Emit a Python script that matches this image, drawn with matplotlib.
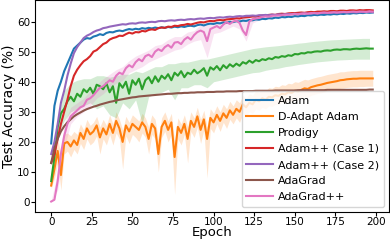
import numpy as np
import matplotlib
matplotlib.use('Agg')
import matplotlib.pyplot as plt

# epochs the curves were read at (every 2nd epoch), some bands read every 4th epoch
epochs = list(range(0, 200, 2))
band_epochs = list(range(0, 200, 4))

labels = ['Adam', 'D-Adapt Adam', 'Prodigy', 'Adam++ (Case 1)',
          'Adam++ (Case 2)', 'AdaGrad', 'AdaGrad++']

adam = [19.5, 32.0, 37.0, 40.0, 43.5, 46.0, 48.5, 51.0, 52.0, 53.0,
        54.0, 54.5, 54.3, 55.0, 55.3, 55.8, 55.5, 56.2, 56.5, 56.4,
        56.8, 57.0, 56.8, 57.2, 57.5, 57.3, 57.6, 57.4, 57.8, 57.6,
        57.9, 57.7, 58.0, 57.8, 58.1, 57.9, 58.2, 58.0, 58.3, 58.1,
        58.4, 58.2, 58.5, 58.6, 58.4, 58.8, 59.0, 58.7, 59.1, 59.3,
        59.2, 59.5, 59.4, 59.7, 59.6, 59.9, 59.8, 60.1, 60.0, 60.3,
        60.2, 60.5, 60.4, 60.7, 60.6, 60.9, 60.8, 61.1, 61.0, 61.3,
        61.2, 61.5, 61.4, 61.6, 61.5, 61.8, 61.7, 61.9, 61.8, 62.1,
        62.0, 62.2, 62.1, 62.3, 62.2, 62.4, 62.3, 62.5, 62.4, 62.6,
        62.5, 62.7, 62.6, 62.8, 62.7, 62.9, 62.8, 63.0, 62.9, 63.0]

dadapt = [5.5, 11.0, 17.0, 9.0, 19.5, 20.0, 18.5, 20.5, 19.0, 23.0,
          21.0, 24.5, 22.5, 23.5, 25.5, 21.5, 24.5, 22.5, 26.0, 23.0,
          27.0, 24.5, 20.0, 25.5, 23.5, 26.0, 25.0, 24.0, 26.5, 25.0,
          21.0, 26.0, 24.5, 16.0, 25.0, 27.0, 24.0, 26.5, 15.0, 25.0,
          23.0, 26.0, 21.0, 27.0, 25.0, 28.5, 24.0, 27.5, 21.0, 28.0,
          26.5, 29.0, 27.0, 29.5, 28.0, 30.5, 29.0, 31.0, 30.0, 32.5,
          31.5, 33.0, 32.5, 34.0, 33.5, 34.5, 34.0, 35.0, 34.8, 35.5,
          35.3, 36.0, 35.8, 36.5, 36.3, 37.0, 36.8, 37.3, 37.8, 37.6,
          38.2, 38.5, 38.8, 39.0, 39.3, 39.6, 39.8, 40.0, 40.2, 40.5,
          40.6, 40.8, 40.9, 41.0, 41.0, 41.1, 41.1, 41.1, 41.1, 41.1]

prodigy = [7.0, 15.0, 25.0, 29.5, 31.0, 33.5, 35.0, 33.5, 36.0, 35.0,
           37.5, 36.5, 38.0, 36.0, 39.0, 38.5, 37.5, 39.5, 36.5, 38.5,
           33.0, 39.5, 38.0, 40.0, 36.0, 40.5, 39.0, 41.0, 37.5, 40.5,
           41.5, 39.5, 41.8, 40.0, 42.0, 41.0, 42.5, 40.5, 43.0, 42.0,
           43.5, 41.5, 43.0, 42.5, 44.0, 42.8, 43.5, 44.5, 42.0, 44.8,
           44.0, 45.2, 43.8, 45.5, 44.5, 45.8, 45.0, 46.0, 45.3, 46.5,
           46.0, 47.0, 46.3, 47.2, 46.8, 47.5, 47.2, 47.8, 47.5, 48.2,
           48.0, 48.5, 48.3, 48.8, 48.6, 49.2, 49.1, 49.5, 49.4, 49.8,
           49.7, 50.0, 50.1, 50.0, 50.3, 50.4, 50.3, 50.6, 50.7, 50.6,
           50.8, 50.8, 50.7, 50.9, 51.0, 50.9, 51.0, 51.1, 51.0, 51.0]

adampp_1 = [13.0, 16.0, 21.0, 26.0, 30.0, 34.0, 38.5, 42.0, 44.0, 45.5,
            46.8, 47.5, 48.5, 50.0, 50.5, 51.5, 52.5, 53.0, 54.0, 54.5,
            54.8, 55.3, 55.2, 55.8, 56.3, 56.0, 56.5, 56.4, 56.9, 56.7,
            57.2, 57.4, 57.2, 57.8, 58.0, 57.9, 58.3, 58.2, 58.6, 58.5,
            58.8, 58.9, 59.2, 59.0, 59.3, 59.6, 59.8, 59.7, 60.0, 60.2,
            60.1, 60.4, 60.5, 60.4, 60.7, 60.8, 60.9, 61.1, 61.0, 61.3,
            61.4, 61.5, 61.7, 61.6, 61.9, 62.0, 62.0, 62.2, 62.3, 62.2,
            62.5, 62.6, 62.5, 62.7, 62.8, 62.8, 62.9, 63.0, 62.9, 63.1,
            63.2, 63.1, 63.3, 63.3, 63.4, 63.3, 63.5, 63.5, 63.4, 63.6,
            63.6, 63.5, 63.7, 63.7, 63.6, 63.8, 63.7, 63.8, 63.8, 63.7]

adampp_2 = [16.0, 20.0, 26.0, 33.0, 37.0, 42.0, 46.0, 49.5, 51.5, 53.0,
            54.5, 55.3, 55.8, 56.5, 57.0, 57.3, 57.8, 58.0, 58.3, 58.5,
            58.7, 58.9, 59.1, 59.0, 59.3, 59.4, 59.3, 59.6, 59.7, 59.6,
            59.8, 59.9, 59.8, 60.1, 60.2, 60.1, 60.3, 60.4, 60.3, 60.5,
            60.6, 60.5, 60.7, 60.8, 60.7, 60.9, 61.0, 60.9, 61.1, 61.2,
            61.1, 61.3, 61.4, 61.3, 61.5, 61.6, 61.5, 61.7, 61.8, 61.7,
            61.9, 61.9, 62.0, 61.9, 62.1, 62.1, 62.2, 62.1, 62.3, 62.2,
            62.4, 62.3, 62.4, 62.5, 62.4, 62.6, 62.5, 62.6, 62.7, 62.6,
            62.7, 62.8, 62.7, 62.8, 62.9, 62.8, 62.9, 63.0, 62.9, 63.0,
            63.1, 63.0, 63.1, 63.1, 63.0, 63.2, 63.1, 63.2, 63.2, 63.1]

adagrad = [13.0, 18.0, 21.0, 23.5, 25.2, 26.5, 27.5, 28.5, 29.2, 29.8,
           30.4, 30.9, 31.3, 31.7, 32.0, 32.4, 32.7, 33.0, 33.3, 33.5,
           33.8, 34.0, 34.2, 34.4, 34.6, 34.8, 34.9, 35.1, 35.2, 35.3,
           35.4, 35.5, 35.6, 35.7, 35.8, 35.9, 36.0, 36.0, 36.1, 36.2,
           36.2, 36.3, 36.3, 36.4, 36.4, 36.5, 36.5, 36.5, 36.6, 36.6,
           36.6, 36.7, 36.7, 36.7, 36.8, 36.8, 36.8, 36.8, 36.9, 36.9,
           36.9, 36.9, 36.9, 37.0, 37.0, 37.0, 37.0, 37.0, 37.0, 37.1,
           37.1, 37.1, 37.1, 37.1, 37.1, 37.1, 37.2, 37.2, 37.2, 37.2,
           37.2, 37.2, 37.2, 37.2, 37.2, 37.3, 37.3, 37.3, 37.3, 37.3,
           37.3, 37.3, 37.3, 37.3, 37.3, 37.3, 37.3, 37.3, 37.4, 37.4]

adagradpp = [0.2, 0.8, 7.0, 16.0, 22.0, 26.0, 28.5, 29.5, 30.5, 31.5,
             32.0, 34.0, 34.5, 35.5, 36.8, 38.0, 38.5, 39.5, 40.5, 40.0,
             42.0, 43.0, 42.5, 44.5, 45.5, 44.8, 46.5, 47.5, 46.8, 48.5,
             49.0, 48.2, 50.0, 50.8, 50.2, 51.5, 52.2, 51.3, 53.0, 53.2,
             52.5, 54.0, 54.8, 54.0, 55.5, 56.5, 57.0, 56.5, 53.5, 57.5,
             58.0, 58.5, 57.8, 59.0, 59.8, 59.2, 60.0, 60.3, 59.5, 57.0,
             55.5, 60.0, 60.8, 61.0, 61.2, 61.5, 61.7, 61.6, 61.9, 62.0,
             62.0, 62.1, 62.3, 62.2, 62.4, 62.5, 62.4, 62.6, 62.7, 62.6,
             62.8, 62.8, 62.7, 62.9, 63.0, 62.9, 63.0, 63.1, 63.0, 63.1,
             63.2, 63.1, 63.2, 63.3, 63.2, 63.3, 63.3, 63.2, 63.4, 63.3]

# shaded spread (lower / upper) for the noisy runs
dadapt_lo = [4.5, 8.0, 13.0, 4.0, 16.0, 17.0, 15.0, 17.5, 16.0, 19.5,
             17.5, 21.0, 19.0, 20.0, 22.0, 16.0, 21.0, 19.0, 22.5, 19.0,
             23.0, 21.0, 11.0, 22.0, 19.5, 22.5, 21.5, 20.0, 23.0, 21.5,
             16.0, 22.5, 21.0, 10.0, 21.5, 23.5, 20.0, 22.5, 2.5, 21.0,
             19.0, 22.5, 13.0, 23.5, 21.5, 25.0, 19.5, 24.0, 8.0, 24.5,
             23.0, 26.0, 23.5, 26.5, 24.5, 27.5, 26.0, 28.0, 26.5, 29.5,
             28.5, 30.0, 29.5, 31.0, 30.5, 31.5, 31.0, 32.0, 31.8, 32.5,
             32.5, 33.2, 33.0, 33.7, 33.5, 34.2, 34.0, 34.5, 35.0, 34.8,
             35.5, 35.8, 36.1, 36.3, 36.6, 36.9, 37.1, 37.3, 37.5, 37.8,
             37.9, 38.1, 38.2, 38.3, 38.3, 38.4, 38.4, 38.5, 38.5, 38.5]
dadapt_hi = [6.5, 14.0, 21.0, 16.0, 22.5, 23.0, 22.0, 23.5, 22.5, 26.0,
             24.0, 27.5, 25.5, 26.5, 28.5, 25.0, 27.5, 25.5, 29.0, 26.0,
             30.0, 27.5, 24.0, 28.5, 26.5, 29.0, 28.0, 27.0, 29.5, 28.0,
             25.0, 29.0, 27.5, 21.0, 28.0, 30.0, 27.0, 29.5, 20.0, 28.0,
             26.0, 29.0, 25.0, 30.0, 28.0, 31.5, 27.5, 30.5, 25.0, 31.0,
             29.5, 32.0, 30.0, 32.5, 31.0, 33.5, 32.0, 34.0, 33.0, 35.5,
             34.5, 36.0, 35.5, 37.0, 36.5, 37.5, 37.0, 38.0, 37.8, 38.5,
             38.3, 39.0, 38.8, 39.5, 39.3, 40.0, 39.8, 40.3, 40.8, 40.6,
             41.0, 41.3, 41.6, 41.8, 42.1, 42.4, 42.6, 42.8, 43.0, 43.3,
             43.3, 43.5, 43.6, 43.7, 43.7, 43.8, 43.8, 43.8, 43.8, 43.8]
prodigy_lo = [6.0, 22.0, 27.0, 30.0, 31.0, 32.0, 33.0, 31.0, 32.0, 29.0,
              28.0, 33.0, 31.0, 34.0, 26.0, 35.0, 36.0, 36.5, 37.5, 34.0,
              38.0, 38.0, 39.0, 39.0, 38.0, 40.0, 40.5, 41.0, 41.5, 42.0,
              42.5, 43.0, 43.2, 43.8, 44.2, 44.5, 45.0, 45.3, 45.7, 46.0,
              46.3, 46.6, 46.8, 47.0, 47.2, 47.3, 47.4, 47.5, 47.5, 47.5]
prodigy_hi = [8.0, 28.0, 37.0, 39.5, 40.5, 41.0, 41.0, 42.0, 42.0, 41.5,
              42.0, 42.5, 42.5, 43.5, 43.0, 44.0, 45.0, 45.0, 46.0, 46.0,
              46.5, 46.5, 47.0, 47.5, 47.5, 48.0, 48.5, 49.0, 49.5, 50.0,
              50.5, 51.0, 51.3, 51.6, 51.8, 52.0, 52.3, 52.5, 52.8, 53.0,
              53.3, 53.5, 53.7, 53.9, 54.0, 54.1, 54.2, 54.3, 54.4, 54.4]
adagradpp_lo = [0.0, 4.0, 18.0, 26.0, 28.5, 30.0, 32.0, 34.5, 36.0, 38.0,
                39.5, 40.5, 43.0, 44.0, 45.0, 46.5, 47.5, 48.5, 49.5, 50.5,
                51.0, 52.5, 53.5, 54.0, 48.0, 56.0, 56.5, 57.5, 58.5, 57.5,
                53.5, 59.5, 60.5, 61.0, 61.3, 61.5, 61.7, 61.9, 62.0, 62.1,
                62.2, 62.3, 62.4, 62.5, 62.6, 62.6, 62.7, 62.8, 62.8, 62.8]
adagradpp_hi = [0.5, 10.0, 26.0, 31.5, 33.0, 34.5, 37.0, 39.0, 41.0, 42.5,
                44.0, 45.0, 47.0, 48.5, 49.5, 50.5, 52.0, 52.5, 54.0, 55.0,
                55.0, 56.5, 57.0, 59.0, 59.0, 59.5, 60.0, 60.5, 61.0, 61.0,
                61.5, 61.8, 62.0, 62.2, 62.5, 62.6, 62.7, 62.8, 62.9, 63.0,
                63.1, 63.2, 63.3, 63.4, 63.4, 63.5, 63.6, 63.6, 63.7, 63.7]

colors = ['tab:blue', 'tab:orange', 'tab:green', 'tab:red',
          'tab:purple', 'tab:brown', 'tab:pink']
curves = [adam, dadapt, prodigy, adampp_1, adampp_2, adagrad, adagradpp]
bands = {1: (epochs, dadapt_lo, dadapt_hi),
         2: (band_epochs, prodigy_lo, prodigy_hi),
         6: (band_epochs, adagradpp_lo, adagradpp_hi)}

fig = plt.figure(figsize=(3.9, 2.42), dpi=100)
ax = fig.add_axes([0.09, 0.125, 0.907, 0.873])

for i, (name, vals, c) in enumerate(zip(labels, curves, colors)):
    if i in bands:
        bx, lo, hi = bands[i]
        ax.fill_between(bx, lo, hi, color=c, alpha=0.2, linewidth=0)
    ax.plot(epochs, vals, color=c, lw=1.5, label=name)

ax.set_xticks([0, 25, 50, 75, 100, 125, 150, 175, 200])
ax.set_yticks([0, 10, 20, 30, 40, 50, 60])
ax.tick_params(labelsize=7.5, length=3, pad=0.5)
ax.set_xlabel('Epoch', fontsize=9.5)
ax.set_ylabel('Test Accuracy (%)', fontsize=10)
ax.xaxis.set_label_coords(0.5, -0.069)
ax.yaxis.set_label_coords(-0.054, 0.5)
ax.legend(loc='lower right', fontsize=8, handlelength=2.4, handletextpad=0.5,
          labelspacing=0.55, borderaxespad=0.45)

fig.savefig('out.png', dpi=100)
